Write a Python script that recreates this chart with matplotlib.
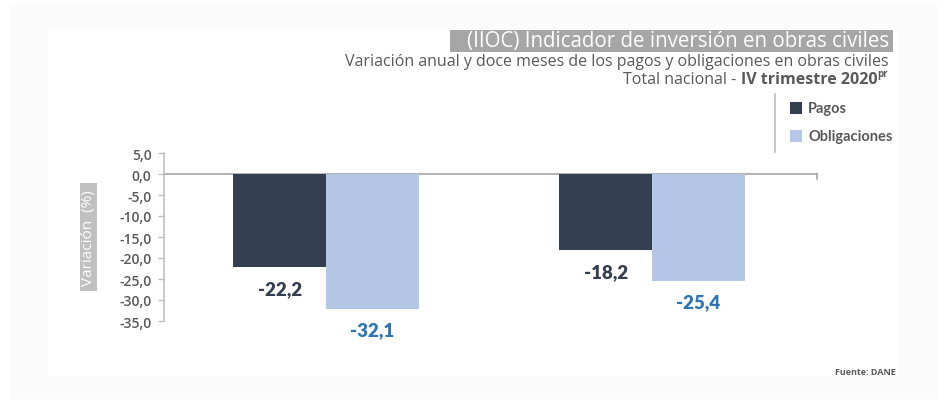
import matplotlib
matplotlib.use("Agg")
import matplotlib.pyplot as plt
from matplotlib.patches import Rectangle

categories = ["Variación anual", "Variación doce meses"]
series_names = ["Pagos", "Obligaciones"]
pagos = [-22.2, -18.2]
obligaciones = [-32.1, -25.4]
yticks = [5, 0, -5, -10, -15, -20, -25, -30, -35]

W, H = 947, 406
fig = plt.figure(figsize=(W / 100, H / 100), dpi=100)
fig.patch.set_facecolor("white")

def fx(px):
    return px / W

def fy(py):
    return 1 - py / H

# backgrounds
fig.patches.append(Rectangle((fx(10), fy(400)), fx(927), (395) / H, transform=fig.transFigure,
                             facecolor="#fbfbfb", edgecolor="none", zorder=-2))
fig.patches.append(Rectangle((fx(48), fy(377)), fx(850), (347) / H, transform=fig.transFigure,
                             facecolor="white", edgecolor="none", zorder=-1))

ax = fig.add_axes([fx(164), fy(322), fx(818) - fx(164), (322 - 154) / H])
ax.set_facecolor("none")

dark = "#333f50"
light = "#b4c7e7"
blue = "#2e75b6"
gray_txt = "#595959"

x = [0, 1]
w = 0.284
ax.bar([i - w / 2 for i in x], pagos, width=w, color=dark, zorder=3)
ax.bar([i + w / 2 for i in x], obligaciones, width=w, color=light, zorder=3)

for i, v in enumerate(pagos):
    ax.text(x[i] - w / 2, v - 5.0, f"{v:.1f}".replace(".", ","), ha="center", va="center",
            fontsize=13.5, fontweight="heavy", color=dark, family="Lato")
for i, v in enumerate(obligaciones):
    ax.text(x[i] + w / 2, v - 5.0, f"{v:.1f}".replace(".", ","), ha="center", va="center",
            fontsize=13.5, fontweight="heavy", color=blue, family="Lato")

ax.set_xlim(-0.497, 1.509)
ax.set_ylim(-35, 5)
ax.set_yticks(yticks)
ax.set_yticklabels([f"{t:.1f}".replace(".", ",") for t in yticks], fontsize=10,
                   color=gray_txt, family="Open Sans", fontweight="semibold")
ax.tick_params(axis="y", length=4, width=1, color="#bfbfbf", pad=5)
ax.set_xticks([])
for s in ["top", "right", "bottom"]:
    ax.spines[s].set_visible(False)
ax.spines["left"].set_color("#bfbfbf")
ax.spines["left"].set_linewidth(1.2)
ax.axhline(0, color="#a6a6a6", lw=1.2, zorder=2)
ax.plot([1.505, 1.505], [0, -1.3], color="#a6a6a6", lw=1.2, clip_on=False)

# y label box
fig.patches.append(Rectangle((fx(80), fy(292)), (97 - 80) / W, (292 - 184) / H, transform=fig.transFigure,
                             facecolor="#c0c0c0", edgecolor="none", zorder=1))
fig.text(fx(88.5), fy(238), "Variación  (%)", rotation=90, ha="center", va="center",
         color="white", fontsize=11, family="Open Sans")

# title box
fig.patches.append(Rectangle((fx(450), fy(53)), (893 - 450) / W, (53 - 31) / H, transform=fig.transFigure,
                             facecolor="#a6a6a6", edgecolor="none", zorder=1))
fig.text(fx(889), fy(42), "(IIOC) Indicador de inversión en obras civiles", ha="right", va="center",
         color="white", fontsize=14.8, family="Open Sans")
fig.text(fx(889), fy(62), "Variación anual y doce meses de los pagos y obligaciones en obras civiles",
         ha="right", va="center", color=gray_txt, fontsize=11.5, family="Open Sans")

# third line built right-to-left
renderer = fig.canvas.get_renderer()
t_pr = fig.text(fx(888), fy(75), "pr", ha="right", va="center", color=gray_txt, fontsize=7,
                family="Open Sans", fontweight="bold")
bb = t_pr.get_window_extent(renderer)
t_b = fig.text(bb.x0 / W, fy(80), "IV trimestre 2020", ha="right", va="center", color=gray_txt,
               fontsize=11.5, family="Open Sans", fontweight="bold")
bb2 = t_b.get_window_extent(renderer)
fig.text(bb2.x0 / W, fy(80), "Total nacional - ", ha="right", va="center", color=gray_txt,
         fontsize=11.5, family="Open Sans")

# legend
fig.lines.append(plt.Line2D([fx(775), fx(775)], [fy(95), fy(153)], transform=fig.transFigure,
                            color="#bfbfbf", lw=1.2))
fig.patches.append(Rectangle((fx(790), fy(115)), 12 / W, 12 / H, transform=fig.transFigure,
                             facecolor=dark, edgecolor="none"))
fig.patches.append(Rectangle((fx(790), fy(143)), 12 / W, 12 / H, transform=fig.transFigure,
                             facecolor=light, edgecolor="none"))
fig.text(fx(808), fy(109), series_names[0], ha="left", va="center", color=gray_txt,
         fontsize=10.5, family="Lato", fontweight="bold")
fig.text(fx(808), fy(137), series_names[1], ha="left", va="center", color=gray_txt,
         fontsize=10.5, family="Lato", fontweight="bold")

fig.text(fx(896), fy(373), "Fuente: DANE", ha="right", va="center", color=gray_txt,
         fontsize=6.5, family="Open Sans", fontweight="bold")

fig.savefig("out.png", dpi=100)
